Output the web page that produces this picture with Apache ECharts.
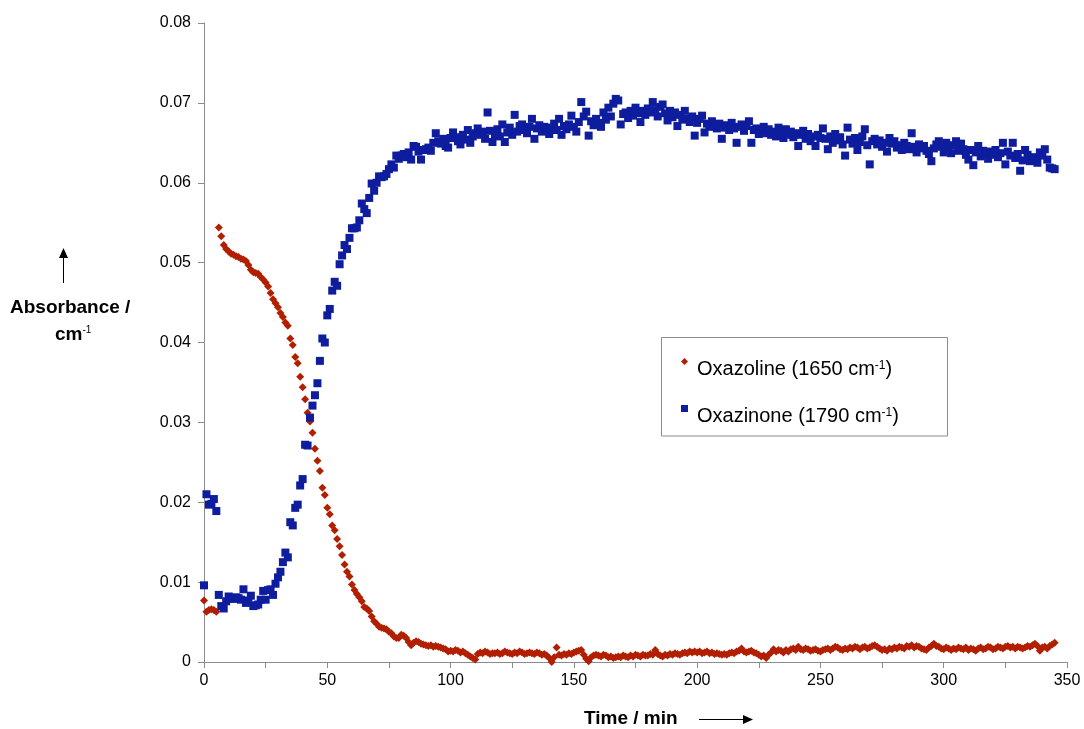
<!DOCTYPE html>
<html>
<head>
<meta charset="utf-8">
<script src="https://cdn.jsdelivr.net/npm/echarts@6/dist/echarts.min.js"></script>
<style>
html,body{margin:0;padding:0;background:#fff;}
#chart{width:1084px;height:729px;}
</style>
</head>
<body>
<div id="chart"></div>
<script>
// Time (min)
const times = [
0,1,2,3,4,5,6,7,8,9,10,11,12,13,14,15,16,17,18,19,
20,21,22,23,24,25,26,27,28,29,30,31,32,33,34,35,36,37,38,39,
40,41,42,43,44,45,46,47,48,49,50,51,52,53,54,55,56,57,58,59,
60,61,62,63,64,65,66,67,68,69,70,71,72,73,74,75,76,77,78,79,
80,81,82,83,84,85,86,87,88,89,90,91,92,93,94,95,96,97,98,99,
100,101,102,103,104,105,106,107,108,109,110,111,112,113,114,115,116,117,118,119,
120,121,122,123,124,125,126,127,128,129,130,131,132,133,134,135,136,137,138,139,
140,141,142,143,144,145,146,147,148,149,150,151,152,153,154,155,156,157,158,159,
160,161,162,163,164,165,166,167,168,169,170,171,172,173,174,175,176,177,178,179,
180,181,182,183,184,185,186,187,188,189,190,191,192,193,194,195,196,197,198,199,
200,201,202,203,204,205,206,207,208,209,210,211,212,213,214,215,216,217,218,219,
220,221,222,223,224,225,226,227,228,229,230,231,232,233,234,235,236,237,238,239,
240,241,242,243,244,245,246,247,248,249,250,251,252,253,254,255,256,257,258,259,
260,261,262,263,264,265,266,267,268,269,270,271,272,273,274,275,276,277,278,279,
280,281,282,283,284,285,286,287,288,289,290,291,292,293,294,295,296,297,298,299,
300,301,302,303,304,305,306,307,308,309,310,311,312,313,314,315,316,317,318,319,
320,321,322,323,324,325,326,327,328,329,330,331,332,333,334,335,336,337,338,339,
340,341,342,343,344,345
];

// Oxazoline (1650 cm-1) absorbance
const oxazoline = [
.0077,.0063,.0065,.0066,.0065,.0063,.0544,.0533,.0522,.0517,
.0514,.0511,.0510,.0508,.0507,.0505,.0504,.0502,.0497,.0491,
.0488,.0487,.0486,.0482,.0479,.0475,.0470,.0462,.0454,.0449,
.0444,.0437,.0432,.0425,.0421,.0405,.0397,.0382,.0374,.0357,
.0344,.0329,.0312,.0301,.0287,.0267,.0252,.0239,.0218,.0209,
.0193,.0185,.0171,.0165,.0154,.0145,.0134,.0122,.0113,.0107,
.0097,.0090,.0085,.0081,.0076,.0069,.0067,.0064,.0057,.0051,
.0048,.0044,.0043,.0042,.0041,.0038,.0036,.0032,.0030,.0030,
.0034,.0033,.0030,.0025,.0021,.0024,.0026,.0025,.0023,.0022,
.0021,.0020,.0021,.0019,.0020,.0019,.0018,.0017,.0016,.0013,
.0014,.0013,.0015,.0014,.0012,.0013,.0011,.0009,.0007,.0005,
.0003,.0010,.0012,.0011,.0013,.0012,.0010,.0011,.0011,.0012,
.0010,.0011,.0013,.0012,.0011,.0010,.0012,.0011,.0013,.0012,
.0010,.0011,.0012,.0011,.0010,.0012,.0011,.0009,.0010,.0008,
.0005,.0000,.0006,.0018,.0009,.0008,.0010,.0009,.0011,.0010,
.0012,.0013,.0014,.0015,.0009,.0004,.0001,.0006,.0008,.0009,
.0008,.0007,.0009,.0008,.0006,.0007,.0005,.0006,.0007,.0006,
.0008,.0007,.0006,.0008,.0007,.0009,.0008,.0007,.0009,.0008,
.0008,.0010,.0009,.0015,.0010,.0008,.0007,.0009,.0008,.0010,
.0009,.0011,.0010,.0009,.0011,.0012,.0011,.0013,.0012,.0013,
.0012,.0013,.0011,.0012,.0013,.0011,.0012,.0010,.0011,.0010,
.0009,.0010,.0009,.0011,.0012,.0011,.0013,.0014,.0017,.0013,
.0012,.0013,.0014,.0012,.0011,.0009,.0007,.0008,.0005,.0009,
.0012,.0016,.0013,.0015,.0014,.0012,.0015,.0013,.0016,.0017,
.0015,.0019,.0016,.0015,.0017,.0016,.0014,.0015,.0016,.0014,
.0013,.0015,.0016,.0017,.0015,.0017,.0019,.0018,.0016,.0015,
.0017,.0016,.0018,.0017,.0019,.0018,.0016,.0018,.0019,.0017,
.0018,.0020,.0021,.0019,.0017,.0015,.0016,.0014,.0017,.0016,
.0018,.0017,.0019,.0018,.0017,.0020,.0019,.0021,.0018,.0020,
.0019,.0017,.0016,.0015,.0018,.0020,.0023,.0020,.0019,.0017,
.0016,.0018,.0017,.0015,.0017,.0016,.0018,.0017,.0016,.0018,
.0015,.0017,.0016,.0014,.0017,.0018,.0016,.0017,.0019,.0018,
.0016,.0017,.0019,.0018,.0017,.0019,.0020,.0018,.0019,.0017,
.0019,.0018,.0017,.0018,.0020,.0019,.0021,.0023,.0020,.0014,
.0018,.0019,.0017,.0020,.0022,.0024
];

// Oxazinone (1790 cm-1) absorbance
const oxazinone = [
.0096,.0210,.0197,.0198,.0204,.0189,.0084,.0070,.0067,.0076,
.0082,.0080,.0079,.0081,.0080,.0078,.0091,.0074,.0077,.0083,
.0070,.0071,.0072,.0078,.0089,.0078,.0090,.0091,.0084,.0098,
.0106,.0113,.0125,.0137,.0131,.0175,.0171,.0193,.0197,.0221,
.0229,.0272,.0271,.0306,.0321,.0334,.0349,.0377,.0405,.0400,
.0434,.0442,.0465,.0476,.0471,.0498,.0509,.0522,.0517,.0531,
.0543,.0543,.0544,.0553,.0574,.0567,.0562,.0581,.0599,.0590,
.0600,.0608,.0607,.0608,.0611,.0617,.0623,.0619,.0634,.0630,
.0634,.0636,.0632,.0638,.0629,.0646,.0645,.0639,.0629,.0641,
.0642,.0644,.0640,.0650,.0662,.0652,.0649,.0655,.0646,.0644,
.0656,.0663,.0657,.0652,.0648,.0660,.0654,.0666,.0650,.0658,
.0662,.0668,.0660,.0664,.0655,.0688,.0665,.0651,.0661,.0667,
.0658,.0673,.0651,.0663,.0669,.0660,.0685,.0664,.0671,.0673,
.0666,.0662,.0670,.0680,.0655,.0668,.0672,.0664,.0670,.0667,
.0661,.0669,.0674,.0666,.0680,.0660,.0671,.0667,.0673,.0684,
.0670,.0664,.0676,.0701,.0683,.0689,.0659,.0677,.0672,.0680,
.0675,.0670,.0688,.0679,.0694,.0683,.0699,.0705,.0703,.0673,
.0686,.0688,.0681,.0690,.0684,.0694,.0687,.0676,.0690,.0685,
.0693,.0688,.0701,.0691,.0683,.0695,.0698,.0687,.0678,.0690,
.0682,.0688,.0671,.0685,.0679,.0690,.0680,.0676,.0683,.0659,
.0675,.0680,.0684,.0663,.0674,.0670,.0677,.0672,.0668,.0674,
.0655,.0669,.0672,.0666,.0675,.0668,.0650,.0670,.0673,.0665,
.0671,.0677,.0650,.0666,.0668,.0661,.0665,.0670,.0662,.0667,
.0660,.0664,.0658,.0669,.0663,.0656,.0667,.0660,.0664,.0657,
.0662,.0646,.0660,.0665,.0655,.0661,.0652,.0658,.0646,.0660,
.0656,.0668,.0655,.0642,.0658,.0650,.0661,.0653,.0657,.0648,
.0634,.0669,.0654,.0649,.0656,.0641,.0651,.0658,.0667,.0647,
.0623,.0652,.0655,.0648,.0653,.0645,.0650,.0639,.0656,.0649,
.0652,.0644,.0647,.0641,.0650,.0646,.0642,.0662,.0645,.0638,
.0648,.0643,.0646,.0640,.0636,.0627,.0643,.0648,.0652,.0645,
.0638,.0650,.0644,.0637,.0647,.0652,.0640,.0649,.0642,.0635,
.0629,.0641,.0622,.0638,.0646,.0633,.0640,.0636,.0630,.0639,
.0635,.0641,.0632,.0637,.0650,.0623,.0639,.0634,.0650,.0631,
.0636,.0615,.0628,.0641,.0635,.0627,.0632,.0630,.0625,.0638,
.0634,.0642,.0629,.0619,.0618,.0617
];

const seriesNames = ['Oxazoline (1650 cm-1)', 'Oxazinone (1790 cm-1)'];
const xTicks = { min: 0, max: 350, step: 25 };
const yTicks = { min: 0, max: 0.08, step: 0.01 };

const FONT = "'Liberation Sans', Arial, Helvetica, sans-serif";
const RED = '#B21F00';
const BLUE = '#0E1C9E';

const chart = echarts.init(document.getElementById('chart'), null, { renderer: 'canvas' });

const diamondIcon = 'path://M3.5,0L7,3.5L3.5,7L0,3.5Z M11,23L11,23';
const squareIcon = 'path://M0,0L7,0L7,7L0,7Z M11,23L11,23';

chart.setOption({
  backgroundColor: '#ffffff',
  animation: false,
  grid: { left: 204, right: 17, top: 23, bottom: 67, containLabel: false },
  xAxis: {
    type: 'value',
    min: xTicks.min, max: xTicks.max, interval: xTicks.step,
    axisLine: { show: true, onZero: false, lineStyle: { color: '#8c8c8c', width: 1 } },
    axisTick: { show: true, length: 6, lineStyle: { color: '#8c8c8c' } },
    splitLine: { show: false },
    axisLabel: {
      color: '#000', fontSize: 16, fontFamily: FONT, margin: 11,
      formatter: v => (v % 50 === 0 ? String(v) : '')
    }
  },
  yAxis: {
    type: 'value',
    min: yTicks.min, max: yTicks.max, interval: yTicks.step,
    axisLine: { show: true, lineStyle: { color: '#8c8c8c', width: 1 } },
    axisTick: { show: true, length: 6, lineStyle: { color: '#8c8c8c' } },
    splitLine: { show: false },
    axisLabel: {
      color: '#000', fontSize: 16, fontFamily: FONT, margin: 13,
      formatter: v => (Math.abs(v) < 1e-9 ? '0' : v.toFixed(2))
    }
  },
  legend: {
    orient: 'vertical',
    left: 681, top: 358,
    padding: 0,
    itemGap: 24,
    itemWidth: 11, itemHeight: 23,
    data: [
      { name: seriesNames[0], icon: diamondIcon, itemStyle: { color: RED, opacity: 1 } },
      { name: seriesNames[1], icon: squareIcon, itemStyle: { color: BLUE, opacity: 1 } }
    ],
    formatter: name => name.replace('cm-1', 'cm{sup|-1}'),
    textStyle: {
      color: '#000', fontSize: 20, fontFamily: FONT, padding: [0, 0, 0, 0],
      rich: {
        sup: { fontSize: 12, fontFamily: FONT, color: '#000', verticalAlign: 'top' }
      }
    }
  },
  graphic: [
    { type: 'rect', shape: { x: 661.5, y: 337.5, width: 286, height: 98.5 },
      style: { fill: 'none', stroke: '#8c8c8c', lineWidth: 1 }, z: 10 },
    { type: 'text', left: 10, top: 298,
      style: { text: 'Absorbance /', font: "bold 19px " + FONT, fill: '#000' } },
    { type: 'text', left: 55, top: 325,
      style: { text: 'cm{sup|-1}', font: "bold 19px " + FONT, fill: '#000',
        rich: { sup: { fontSize: 10, fontFamily: FONT, fontWeight: 'normal', verticalAlign: 'top' } } } },
    { type: 'line', shape: { x1: 63.5, y1: 256, x2: 63.5, y2: 283 },
      style: { stroke: '#000', lineWidth: 1 } },
    { type: 'polygon', shape: { points: [[63.5, 248], [59, 258], [68, 258]] },
      style: { fill: '#000' } },
    { type: 'text', left: 584, top: 709,
      style: { text: 'Time / min', font: "bold 19px " + FONT, fill: '#000' } },
    { type: 'line', shape: { x1: 699, y1: 719.5, x2: 745, y2: 719.5 },
      style: { stroke: '#000', lineWidth: 1 } },
    { type: 'polygon', shape: { points: [[753, 719.5], [743, 715], [743, 724]] },
      style: { fill: '#000' } }
  ],
  series: [
    {
      name: seriesNames[0], type: 'scatter', symbol: 'diamond', symbolSize: 8,
      itemStyle: { color: RED, opacity: 1 },
      data: times.map((t, i) => [t, oxazoline[i]]),
      z: 2
    },
    {
      name: seriesNames[1], type: 'scatter', symbol: 'rect', symbolSize: 8,
      itemStyle: { color: BLUE, opacity: 1 },
      data: times.map((t, i) => [t, oxazinone[i]]),
      z: 3
    }
  ]
});
</script>
</body>
</html>
